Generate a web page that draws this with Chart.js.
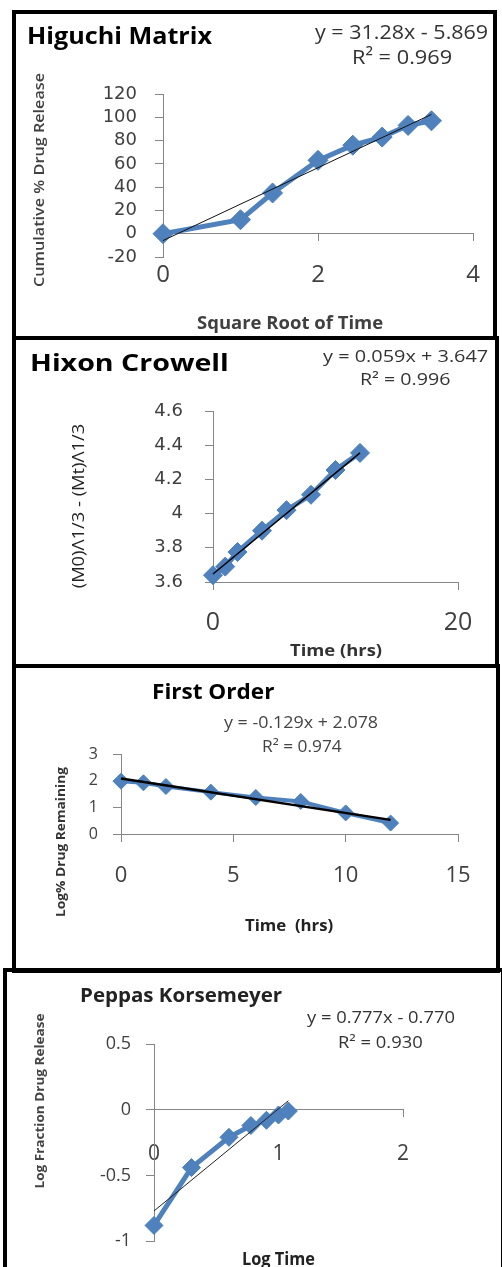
<!DOCTYPE html>
<html>
<head>
<meta charset="utf-8">
<script src="https://cdn.jsdelivr.net/npm/chart.js@4.4.1/dist/chart.umd.min.js"></script>
<style>
  html, body { margin: 0; padding: 0; background: #fff; }
  body { width: 502px; height: 1267px; position: relative; overflow: hidden; font-family: 'Open Sans', sans-serif; }
  canvas { position: absolute; left: 0; }
  .box { position: absolute; border: 4px solid #000; box-sizing: border-box; }
  .t { position: absolute; white-space: pre; line-height: 1; }
</style>
</head>
<body>

<canvas id="higuchi" width="502" height="326" style="top:12px"></canvas>
<canvas id="hixon" width="502" height="326" style="top:340px"></canvas>
<canvas id="first" width="502" height="303" style="top:668px"></canvas>
<canvas id="peppas" width="502" height="295" style="top:972px"></canvas>

<div class="box" style="left:12px;top:10px;width:485px;height:330px"></div>
<div class="box" style="left:12px;top:336px;width:487px;height:332px"></div>
<div class="box" style="left:12px;top:664px;width:488px;height:309px"></div>
<div class="box" style="left:3px;top:968px;width:502px;height:320px"></div>

<script>
// Higuchi matrix: sqrt(t) vs cumulative % released
const higuchiX = [0, 1, 1.414, 2, 2.449, 2.828, 3.162, 3.464];
const higuchiY = [0, 12, 35, 63, 76, 83, 93, 97];
const higuchiFit = { slope: 31.28, intercept: -5.869 };
const higuchiXTicks = [0, 2, 4];
const higuchiYTicks = [-20, 0, 20, 40, 60, 80, 100, 120];

// Hixon Crowell: cube root remaining vs time
const hixonX = [0, 1, 2, 4, 6, 8, 10, 12];
const hixonY = [3.64, 3.69, 3.775, 3.9, 4.02, 4.11, 4.255, 4.355];
const hixonFit = { slope: 0.059, intercept: 3.647 };
const hixonXTicks = [0, 20];
const hixonYTicks = [3.6, 3.8, 4, 4.2, 4.4, 4.6];

// First order: log % remaining vs time
const firstX = [0, 1, 2, 4, 6, 8, 10, 12];
const firstY = [1.98, 1.92, 1.78, 1.57, 1.37, 1.22, 0.79, 0.41];
const firstFit = { slope: -0.129, intercept: 2.078 };
const firstXTicks = [0, 5, 10, 15];
const firstYTicks = [0, 1, 2, 3];

// Peppas Korsmeyer: log fraction released vs log time
const peppasX = [0, 0.301, 0.602, 0.778, 0.903, 1, 1.079];
const peppasY = [-0.88, -0.44, -0.21, -0.12, -0.08, -0.04, -0.01];
const peppasFit = { slope: 0.777, intercept: -0.770 };
const peppasXTicks = [0, 1, 2];
const peppasYTicks = [-1, -0.5, 0, 0.5];

const AXIS = '#868686';
const TICK_TEXT = '#404040';

function drawPanel(id, xs, ys, fit, xTicks, yTicks, look) {
  const points = xs.map((x, i) => ({ x: x, y: ys[i] }));
  const first = xs[0];
  const last = xs[xs.length - 1];
  const trend = [
    { x: first, y: fit.slope * first + fit.intercept },
    { x: last, y: fit.slope * last + fit.intercept }
  ];
  const crossY = Math.max(yTicks[0], 0);

  return new Chart(document.getElementById(id), {
    type: 'scatter',
    data: {
      datasets: [
        {
          data: trend,
          showLine: true,
          borderColor: look.trendColor,
          borderWidth: look.trendWidth,
          pointRadius: 0,
          clip: false
        },
        {
          data: points,
          showLine: true,
          borderColor: '#4f81bd',
          backgroundColor: '#4f81bd',
          borderWidth: look.lineWidth,
          pointStyle: 'rectRot',
          pointRadius: look.marker,
          pointBorderColor: '#4a7ebb',
          pointBorderWidth: 1,
          clip: false
        }
      ]
    },
    options: {
      responsive: false,
      animation: false,
      layout: { padding: look.pad },
      plugins: {
        legend: { display: false },
        tooltip: { enabled: false }
      },
      scales: {
        x: {
          type: 'linear',
          min: xTicks[0],
          max: xTicks[xTicks.length - 1],
          position: { y: crossY },
          afterBuildTicks: s => { s.ticks = xTicks.map(v => ({ value: v })); },
          afterFit: s => { s.height = 0; },
          grid: { drawOnChartArea: false, tickLength: 7, color: AXIS },
          border: { color: AXIS },
          ticks: {
            color: TICK_TEXT,
            font: { family: 'Open Sans', size: look.xFont },
            padding: look.xPad,
            maxRotation: 0,
            autoSkip: false,
            callback: v => String(v)
          }
        },
        y: {
          type: 'linear',
          position: 'left',
          min: yTicks[0],
          max: yTicks[yTicks.length - 1],
          afterBuildTicks: s => { s.ticks = yTicks.map(v => ({ value: v })); },
          afterFit: s => { s.width = 60; },
          grid: { drawOnChartArea: false, tickLength: 8, color: AXIS },
          border: { color: AXIS },
          ticks: {
            color: TICK_TEXT,
            font: { family: look.yFamily || 'Open Sans', size: look.yFont },
            padding: look.yPad,
            autoSkip: false,
            callback: v => String(v)
          }
        }
      }
    }
  });
}

drawPanel('higuchi', higuchiX, higuchiY, higuchiFit, higuchiXTicks, higuchiYTicks, {
  pad: { left: 103, right: 29, top: 82, bottom: 81 },
  xFont: 24, xPad: 20, yFont: 18, yFamily: 'DejaVu Sans', yPad: 18,
  marker: 10, lineWidth: 5, trendWidth: 1, trendColor: '#111'
});
drawPanel('hixon', hixonX, hixonY, hixonFit, hixonXTicks, hixonYTicks, {
  pad: { left: 153, right: 44, top: 71, bottom: 84 },
  xFont: 25, xPad: 19, yFont: 18, yFamily: 'DejaVu Sans', yPad: 22,
  marker: 9.5, lineWidth: 5, trendWidth: 1.5, trendColor: '#000'
});
drawPanel('first', firstX, firstY, firstFit, firstXTicks, firstYTicks, {
  pad: { left: 61, right: 44, top: 86, bottom: 137 },
  xFont: 22, xPad: 22, yFont: 16, yPad: 15,
  marker: 8, lineWidth: 4, trendWidth: 2.5, trendColor: '#000'
});
drawPanel('peppas', peppasX, peppasY, peppasFit, peppasXTicks, peppasYTicks, {
  pad: { left: 94, right: 99, top: 72, bottom: 23 },
  xFont: 21, xPad: 25, yFont: 18, yPad: 15,
  marker: 9, lineWidth: 5, trendWidth: 1, trendColor: '#222'
});

// text overlays, stretched to the widths measured on the reference
function addText(str, x1, x2, cy, size, weight, color) {
  const el = document.createElement('div');
  el.className = 't';
  el.textContent = str;
  el.style.cssText = 'left:' + x1 + 'px;top:' + cy + 'px;font-size:' + size + 'px;font-weight:' + weight + ';color:' + color + ';transform-origin:0 50%';
  document.body.appendChild(el);
  const s = (x2 - x1) / el.offsetWidth;
  el.style.transform = 'translateY(-50%) scaleX(' + s + ')';
}
function addVText(str, cx, y1, y2, size, weight, color) {
  const el = document.createElement('div');
  el.className = 't';
  el.textContent = str;
  el.style.cssText = 'left:' + cx + 'px;top:' + ((y1 + y2) / 2) + 'px;font-size:' + size + 'px;font-weight:' + weight + ';color:' + color + ';transform-origin:50% 50%';
  document.body.appendChild(el);
  const s = (y2 - y1) / el.offsetWidth;
  el.style.transform = 'translate(-50%,-50%) rotate(-90deg) scaleX(' + s + ')';
}

addText('Higuchi Matrix', 27, 212, 35, 23, 700, '#000');
addText('y = 31.28x - 5.869', 315, 488, 32, 20, 400, '#333');
addText('R² = 0.969', 352, 452, 57, 20, 400, '#333');
addVText('Cumulative % Drug Release', 38, 73, 287, 15, 600, '#404040');
addText('Square Root of Time', 197, 383, 322, 17, 700, '#404040');

addText('Hixon Crowell', 30, 229, 362, 24, 700, '#000');
addText('y = 0.059x + 3.647', 323, 488, 355, 17, 400, '#333');
addText('R² = 0.996', 360, 450, 378, 17, 400, '#333');
addVText('(M0)Λ1/3 - (Mt)Λ1/3', 77, 423, 588, 17, 400, '#222');
addText('Time (hrs)', 290, 382, 650, 16, 700, '#333');

addText('First Order', 152, 274, 690, 22, 700, '#000');
addText('y = -0.129x + 2.078', 224, 378, 722, 16, 400, '#444');
addText('R² = 0.974', 262, 342, 746, 16, 400, '#444');
addVText('Log% Drug Remaining', 60, 767, 917, 13, 700, '#333');
addText('Time  (hrs)', 245, 333, 925, 16, 700, '#222');

addText('Peppas Korsemeyer', 80, 282, 995, 20, 700, '#222');
addText('y = 0.777x - 0.770', 307, 455, 1017, 16, 400, '#333');
addText('R² = 0.930', 338, 423, 1042, 16, 400, '#333');
addVText('Log Fraction Drug Release', 40, 1013, 1188, 12, 700, '#444');
addText('Log Time', 242, 315, 1258, 17, 700, '#222');
</script>
</body>
</html>
